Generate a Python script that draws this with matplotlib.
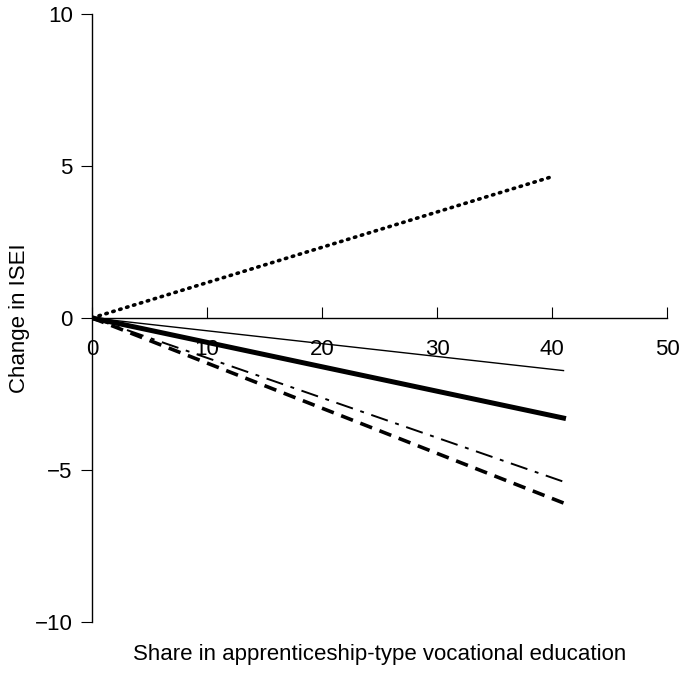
import matplotlib
matplotlib.use('Agg')
import matplotlib.pyplot as plt

# data: each line starts at the origin
x_end = [0, 41]
x_end_dotted = [0, 40]
thin_solid = [0, -1.73]
thick_solid = [0, -3.29]
dash_dot = [0, -5.38]
dashed = [0, -6.08]
dotted = [0, 4.64]

plt.rcParams['font.family'] = ['Liberation Sans', 'DejaVu Sans']
plt.rcParams['font.size'] = 16

fig = plt.figure(figsize=(6.82, 6.76), dpi=100)
ax = fig.add_axes([0.135, 0.0794, 0.843, 0.9006])

ax.plot(x_end_dotted, dotted, color='black', lw=2.6, linestyle=(0, (0.4, 1.6)),
        dash_capstyle='round', solid_capstyle='round')
ax.plot(x_end, thin_solid, color='black', lw=1.0)
ax.plot(x_end, thick_solid, color='black', lw=3.6)
ax.plot(x_end, dash_dot, color='black', lw=1.4, linestyle=(0, (9, 4, 2, 4)))
ax.plot(x_end, dashed, color='black', lw=2.6, linestyle=(0, (3.5, 2.2)))

ax.set_xlim(0, 50)
ax.set_ylim(-10, 10)
ax.set_xticks([0, 10, 20, 30, 40, 50])
ax.set_yticks([-10, -5, 0, 5, 10])

#move bottom spine to zero, hide the rest
ax.spines['bottom'].set_position(('data', 0))
ax.spines['top'].set_visible(False)
ax.spines['right'].set_visible(False)
ax.spines['left'].set_linewidth(1.0)
ax.spines['bottom'].set_linewidth(1.0)

ax.tick_params(axis='x', direction='in', length=8, pad=15, labelsize=16)
ax.tick_params(axis='y', direction='out', length=8, pad=6, labelsize=16)

ax.set_ylabel('Change in ISEI', fontsize=16)
ax.yaxis.set_label_coords(-0.108, 0.5)
ax.set_xlabel('Share in apprenticeship-type vocational education', fontsize=16)
ax.xaxis.set_label_coords(0.5, -0.036)

fig.savefig('out.png', dpi=100)
